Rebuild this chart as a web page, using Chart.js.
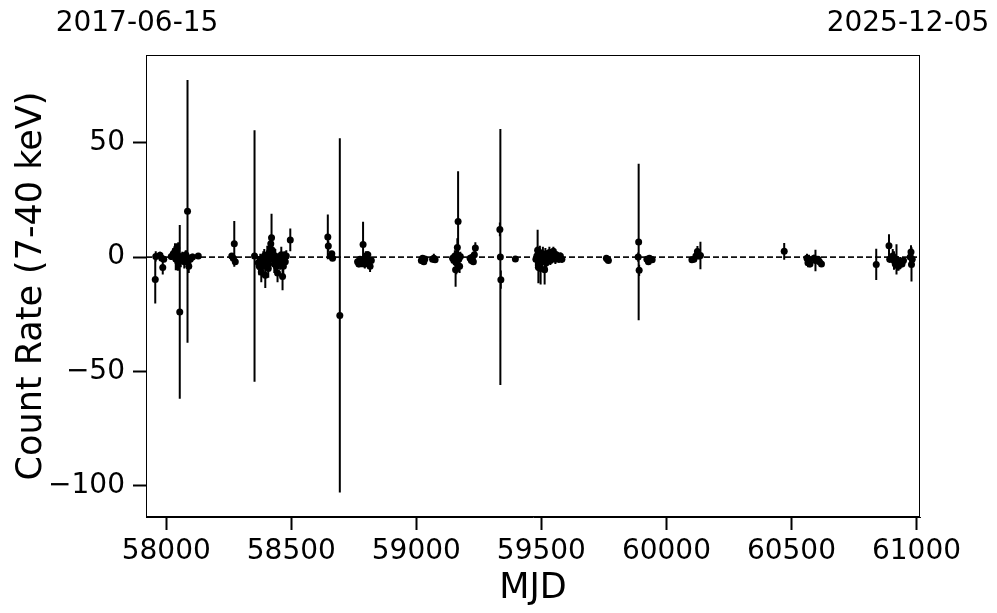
<!DOCTYPE html>
<html>
<head>
<meta charset="utf-8">
<script src="https://cdn.jsdelivr.net/npm/chart.js@4/dist/chart.umd.min.js"></script>
<style>
  body { margin: 0; background: #fff; }
  canvas { display: block; }
</style>
</head>
<body>
<canvas id="chart" width="997" height="613"></canvas>
<script>
// light curve: MJD, count rate (7-40 keV), 1-sigma error
const mjd = [
  57956, 57958, 57975, 57982, 57986, 57990, 58020, 58028, 58035, 58038, 58042, 58046, 58048, 58054, 58058, 58064, 58072, 58078, 58085, 58088, 58090, 58096, 58105, 58128,
  58262, 58268, 58272, 58276, 58353,
  58368, 58372, 58376, 58380, 58384, 58388, 58392, 58396, 58400, 58404, 58408, 58412, 58415, 58418, 58421, 58424, 58428, 58432, 58436, 58440, 58445, 58450, 58455, 58460, 58465, 58468, 58472, 58476, 58480, 58496,
  58646, 58648, 58658, 58662, 58665, 58694,
  58765, 58770, 58775, 58780, 58787, 58790, 58794, 58798, 58802, 58806, 58810, 58815, 58820,
  59020, 59025, 59030, 59034, 59065, 59070, 59075,
  59145, 59150, 59154, 59157, 59160, 59162, 59164, 59167, 59170, 59173, 59176, 59215, 59220, 59225, 59228, 59232, 59236,
  59334, 59336, 59338, 59396,
  59478, 59482, 59485, 59488, 59491, 59494, 59497, 59500, 59503, 59506, 59510, 59513, 59516, 59520, 59524, 59528, 59532, 59536, 59540, 59544, 59548, 59552, 59556, 59560, 59565, 59570, 59576, 59582,
  59760, 59764, 59768,
  59887, 59889, 59891, 59922, 59928, 59932, 59938, 59943,
  60102, 60110, 60118, 60124, 60130, 60136,
  60471,
  60562, 60566, 60570, 60574, 60590, 60596, 60606, 60612, 60620,
  60839,
  60890, 60893, 60905, 60910, 60915, 60920, 60928, 60935, 60942, 60948, 60975, 60978, 60980, 60983
];
const rate = [
  -9.8, 0.3, 0.8, -0.5, -4.6, -1.0, 0.2, 1.5, 2.5, -0.8, 4.0, -2.0, 0.5, -24.0, -1.5, 0.3, -2.0, 1.0, 20.0, -0.5, -4.0, -1.0, 0.0, 0.5,
  0.5, -0.5, 5.8, -2.0, 0.5,
  -2.5, -4.0, -1.0, -6.5, -3.0, -1.5, 0.5, -8.0, -2.0, 1.0, -5.0, 2.0, 0.0, 5.8, 8.5, 3.0, -1.0, -3.0, 0.5, -4.0, -7.0, -1.5, -2.5, 1.0, -8.5, -4.0, -0.5, -2.0, 0.5, 7.5,
  8.8, 4.8, 0.5, 1.5, -0.5, -25.5,
  -2.0, -3.0, -1.0, -2.5, 5.5, -1.0, -3.0, 0.5, -2.0, 1.0, -1.5, -4.0, -1.5,
  -1.5, -0.5, -2.0, -0.8, -1.0, -0.5, -1.2,
  -0.5, -1.5, 0.5, -5.5, -2.5, 1.0, 4.2, 15.6, -1.0, -4.0, 0.3, -0.5, -1.5, 0.0, -2.0, 1.0, 4.0,
  12.1, 0.0, -9.9, -0.8,
  -1.0, 0.5, 3.0, -4.5, -1.0, 2.0, -5.0, 0.0, -2.0, 1.5, -1.0, -5.5, 0.5, -2.5, 1.0, -0.5, 2.0, -1.5, 1.5, 0.0, 2.5, 0.5, -1.0, 1.0, 0.0, -1.0, 0.5, -1.0,
  -0.5, -1.0, -1.5,
  0.0, 6.6, -5.8, -1.0, -2.0, -0.5, -1.0, -1.2,
  -1.2, -1.0, 0.5, 2.4, 0.5, 0.7,
  2.5,
  -0.5, -2.5, -1.0, -3.0, -0.5, -1.5, -1.0, -2.0, -3.0,
  -3.2,
  5.0, -1.0, 0.5, -1.5, -3.0, -1.0, -4.0, -2.0, -3.0, -1.5, 0.0, 2.2, -3.2, -1.0
];
const rateErr = [
  10.5, 2.2, 1.5, 1.2, 3.0, 1.0, 1.5, 2.5, 3.5, 5.0, 2.0, 4.0, 6.0, 38.0, 3.0, 2.0, 3.0, 2.0, 57.5, 2.0, 3.0, 2.0, 1.5, 1.2,
  1.0, 1.0, 10.0, 1.5, 55.0,
  3.0, 4.0, 2.5, 4.5, 3.0, 4.0, 3.0, 5.5, 3.5, 4.0, 4.0, 3.0, 5.0, 4.0, 10.5, 3.0, 2.5, 4.0, 3.0, 3.5, 4.0, 2.5, 3.0, 3.5, 6.0, 4.5, 3.0, 3.0, 2.5, 5.0,
  9.8, 2.5, 1.5, 1.0, 1.0, 77.5,
  1.5, 1.5, 1.5, 2.0, 10.0, 2.0, 2.0, 2.0, 1.5, 1.5, 1.5, 2.5, 1.5,
  1.5, 1.0, 1.0, 1.0, 1.0, 2.0, 1.0,
  1.5, 2.0, 2.5, 7.5, 5.0, 3.0, 4.0, 22.0, 3.0, 3.0, 2.0, 1.5, 1.5, 1.5, 1.0, 1.5, 2.5,
  3.0, 56.0, 4.0, 1.0,
  3.0, 4.0, 9.0, 7.0, 3.5, 3.0, 7.0, 3.0, 4.0, 3.0, 2.5, 6.5, 3.5, 3.0, 2.0, 2.5, 2.5, 2.0, 2.0, 2.0, 2.0, 2.0, 2.0, 1.5, 1.5, 1.5, 1.5, 1.5,
  1.0, 1.0, 1.0,
  2.0, 34.2, 2.5, 1.0, 1.5, 1.0, 1.0, 1.0,
  1.0, 1.0, 1.0, 2.5, 1.5, 6.0,
  3.7,
  2.0, 2.0, 2.0, 1.5, 1.5, 4.7, 1.5, 1.5, 1.0,
  6.8,
  5.0, 1.5, 3.0, 4.0, 2.0, 6.6, 2.0, 2.0, 1.5, 1.5, 3.0, 3.0, 7.5, 2.0
];
const xRange = [57919, 61014];
const yRange = [-113.7, 88.4];
const xTicks = [58000, 58500, 59000, 59500, 60000, 60500, 61000];
const yTicks = [-100, -50, 0, 50];
const dateLabels = ['2017-06-15', '2025-12-05'];

const points = mjd.map((m, i) => ({ x: m, y: rate[i] }));
const bars = [];
mjd.forEach((m, i) => {
    bars.push({ x: m, y: rate[i] - rateErr[i] });
    bars.push({ x: m, y: rate[i] + rateErr[i] });
    bars.push({ x: m, y: null });
});

const FONT = 'DejaVu Sans';

const framePlugin = {
    id: 'frame',
    afterDraw(chart) {
        const { ctx, chartArea: a, scales } = chart;
        ctx.save();
        ctx.strokeStyle = '#000';
        ctx.lineWidth = 1;
        ctx.strokeRect(a.left + 0.5, a.top + 0.5, a.right - a.left - 1, a.bottom - a.top - 1);
        ctx.fillStyle = '#000';
        ctx.font = '28px "' + FONT + '"';
        ctx.textAlign = 'center';
        ctx.textBaseline = 'middle';
        ctx.fillText(dateLabels[0], scales.x.getPixelForValue(xRange[0]) - 9, 24);
        ctx.fillText(dateLabels[1], scales.x.getPixelForValue(xRange[1]) - 12, 24);
        ctx.restore();
    }
};

new Chart(document.getElementById('chart').getContext('2d'), {
    type: 'scatter',
    data: {
        datasets: [
            {
                data: points,
                backgroundColor: '#000',
                borderColor: '#000',
                pointRadius: 3.5,
                pointBorderWidth: 0,
                order: 0
            },
            {
                type: 'line',
                data: bars,
                borderColor: '#000',
                borderWidth: 2,
                pointRadius: 0,
                spanGaps: false,
                fill: false,
                order: 1
            },
            {
                type: 'line',
                data: [{ x: xRange[0], y: 0 }, { x: xRange[1], y: 0 }],
                borderColor: '#111',
                borderWidth: 1.6,
                borderDash: [6, 3],
                pointRadius: 0,
                fill: false,
                order: 2
            }
        ]
    },
    options: {
        responsive: false,
        animation: false,
        devicePixelRatio: 1,
        layout: { padding: { top: 55, right: 77, left: 0, bottom: 0 } },
        plugins: {
            legend: { display: false },
            tooltip: { enabled: false }
        },
        scales: {
            x: {
                type: 'linear',
                min: xRange[0],
                max: xRange[1],
                afterBuildTicks: axis => { axis.ticks = xTicks.map(v => ({ value: v })); },
                afterFit: axis => { axis.height = 96; },
                grid: { display: true, drawOnChartArea: false, tickLength: 13, tickWidth: 2, tickColor: '#000' },
                border: { display: true, color: '#000', width: 1 },
                ticks: {
                    color: '#000',
                    font: { family: FONT, size: 28 },
                    padding: 5,
                    maxRotation: 0,
                    callback: v => String(v)
                },
                title: {
                    display: true,
                    text: 'MJD',
                    color: '#000',
                    font: { family: FONT, size: 35 },
                    padding: { top: 0, bottom: 3 }
                }
            },
            y: {
                min: yRange[0],
                max: yRange[1],
                afterBuildTicks: axis => { axis.ticks = yTicks.map(v => ({ value: v })); },
                afterFit: axis => { axis.width = 146; },
                grid: { display: true, drawOnChartArea: false, tickLength: 13, tickWidth: 2, tickColor: '#000' },
                border: { display: true, color: '#000', width: 1 },
                ticks: {
                    color: '#000',
                    font: { family: FONT, size: 28 },
                    padding: 8,
                    callback: v => String(v).replace('-', '\u2212')
                },
                title: {
                    display: true,
                    text: 'Count Rate (7-40 keV)',
                    color: '#000',
                    font: { family: FONT, size: 35 },
                    padding: { top: 11, bottom: 0 }
                }
            }
        }
    },
    plugins: [framePlugin]
});
</script>
</body>
</html>
